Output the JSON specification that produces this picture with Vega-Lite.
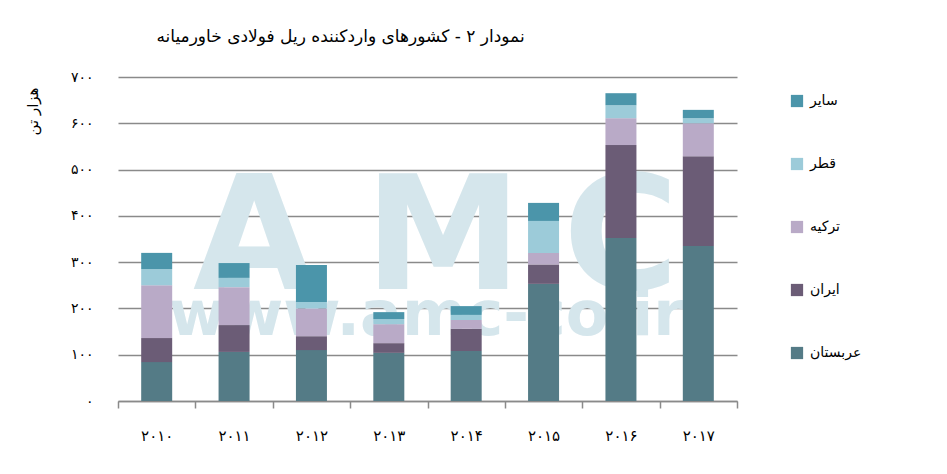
{
  "$schema": "https://vega.github.io/schema/vega-lite/v6.json",
  "autosize": {"type": "none"},
  "width": 619,
  "height": 324,
  "padding": {"left": 118, "top": 77, "right": 210, "bottom": 73},
  "background": "#ffffff",
  "title": {
    "text": "نمودار ۲ - کشورهای واردکننده ریل فولادی خاورمیانه",
    "fontSize": 17,
    "fontWeight": "normal",
    "font": "DejaVu Sans",
    "color": "#000000",
    "dx": -87,
    "offset": 24
  },
  "data": {
    "values": [
      {"year": "۲۰۱۰", "country": "عربستان", "value": 84},
      {"year": "۲۰۱۰", "country": "ایران", "value": 52},
      {"year": "۲۰۱۰", "country": "ترکیه", "value": 114},
      {"year": "۲۰۱۰", "country": "قطر", "value": 35},
      {"year": "۲۰۱۰", "country": "سایر", "value": 35},
      {"year": "۲۰۱۱", "country": "عربستان", "value": 106},
      {"year": "۲۰۱۱", "country": "ایران", "value": 58},
      {"year": "۲۰۱۱", "country": "ترکیه", "value": 82},
      {"year": "۲۰۱۱", "country": "قطر", "value": 20},
      {"year": "۲۰۱۱", "country": "سایر", "value": 32},
      {"year": "۲۰۱۲", "country": "عربستان", "value": 110},
      {"year": "۲۰۱۲", "country": "ایران", "value": 30},
      {"year": "۲۰۱۲", "country": "ترکیه", "value": 60},
      {"year": "۲۰۱۲", "country": "قطر", "value": 14},
      {"year": "۲۰۱۲", "country": "سایر", "value": 80},
      {"year": "۲۰۱۳", "country": "عربستان", "value": 104},
      {"year": "۲۰۱۳", "country": "ایران", "value": 21},
      {"year": "۲۰۱۳", "country": "ترکیه", "value": 41},
      {"year": "۲۰۱۳", "country": "قطر", "value": 11},
      {"year": "۲۰۱۳", "country": "سایر", "value": 15},
      {"year": "۲۰۱۴", "country": "عربستان", "value": 108},
      {"year": "۲۰۱۴", "country": "ایران", "value": 48},
      {"year": "۲۰۱۴", "country": "ترکیه", "value": 19},
      {"year": "۲۰۱۴", "country": "قطر", "value": 11},
      {"year": "۲۰۱۴", "country": "سایر", "value": 19},
      {"year": "۲۰۱۵", "country": "عربستان", "value": 253},
      {"year": "۲۰۱۵", "country": "ایران", "value": 42},
      {"year": "۲۰۱۵", "country": "ترکیه", "value": 25},
      {"year": "۲۰۱۵", "country": "قطر", "value": 69},
      {"year": "۲۰۱۵", "country": "سایر", "value": 39},
      {"year": "۲۰۱۶", "country": "عربستان", "value": 352},
      {"year": "۲۰۱۶", "country": "ایران", "value": 201},
      {"year": "۲۰۱۶", "country": "ترکیه", "value": 58},
      {"year": "۲۰۱۶", "country": "قطر", "value": 28},
      {"year": "۲۰۱۶", "country": "سایر", "value": 26},
      {"year": "۲۰۱۷", "country": "عربستان", "value": 335},
      {"year": "۲۰۱۷", "country": "ایران", "value": 194},
      {"year": "۲۰۱۷", "country": "ترکیه", "value": 71},
      {"year": "۲۰۱۷", "country": "قطر", "value": 11},
      {"year": "۲۰۱۷", "country": "سایر", "value": 18}
    ]
  },
  "encoding": {
    "x": {
      "field": "year",
      "type": "ordinal",
      "sort": null,
      "scale": {
        "domain": ["۲۰۱۰", "۲۰۱۱", "۲۰۱۲", "۲۰۱۳", "۲۰۱۴", "۲۰۱۵", "۲۰۱۶", "۲۰۱۷"],
        "paddingInner": 0,
        "paddingOuter": 0
      },
      "axis": {
        "title": null,
        "labelAngle": 0,
        "labelFont": "DejaVu Sans",
        "labelFontSize": 15,
        "labelColor": "#000000",
        "labelPadding": 20,
        "tickBand": "extent",
        "tickSize": 7,
        "tickColor": "#8a8a8a",
        "tickWidth": 1.5,
        "domainColor": "#8a8a8a",
        "domainWidth": 1.5,
        "grid": false
      }
    }
  },
  "layer": [
    {
      "data": {"values": [{}]},
      "mark": {"type": "text", "text": "A", "font": "DejaVu Sans", "fontWeight": "bold", "fontSize": 158, "color": "#d5e6ec", "align": "center", "baseline": "alphabetic", "dx": 20},
      "encoding": {
        "x": {"datum": "۲۰۱۱"},
        "y": {"datum": 242, "type": "quantitative"}
      }
    },
    {
      "data": {"values": [{}]},
      "mark": {"type": "text", "text": "M", "font": "DejaVu Sans", "fontWeight": "bold", "fontSize": 158, "color": "#d5e6ec", "align": "center", "baseline": "alphabetic", "dx": -23},
      "encoding": {
        "x": {"datum": "۲۰۱۴"},
        "y": {"datum": 242, "type": "quantitative"}
      }
    },
    {
      "data": {"values": [{}]},
      "mark": {"type": "text", "text": "C", "font": "DejaVu Sans", "fontWeight": "bold", "fontSize": 158, "color": "#d5e6ec", "align": "center", "baseline": "alphabetic"},
      "encoding": {
        "x": {"datum": "۲۰۱۶"},
        "y": {"datum": 242, "type": "quantitative"}
      }
    },
    {
      "data": {"values": [{}]},
      "mark": {"type": "text", "text": "www.amc-co.ir", "font": "DejaVu Sans", "fontWeight": "bold", "fontSize": 62, "color": "#d5e6ec", "align": "center", "baseline": "alphabetic", "dx": -40},
      "encoding": {
        "x": {"datum": "۲۰۱۴"},
        "y": {"datum": 143, "type": "quantitative"}
      }
    },
    {
      "transform": [
        {"calculate": "indexof(['عربستان','ایران','ترکیه','قطر','سایر'], datum.country)", "as": "rank"}
      ],
      "mark": {"type": "bar", "size": 31},
      "encoding": {
        "y": {
          "field": "value",
          "type": "quantitative",
          "stack": "zero",
          "scale": {"domain": [0, 700], "nice": false},
          "axis": {
            "title": "هزار تن",
            "titleFont": "DejaVu Sans",
            "titleFontSize": 15,
            "titleFontWeight": "normal",
            "titleColor": "#000000",
            "titleAnchor": "end",
            "titleY": 10,
            "titlePadding": 30,
            "values": [0, 100, 200, 300, 400, 500, 600, 700],
            "labelExpr": "replace(replace(replace(replace(replace(replace(replace(replace(datum.label,regexp('0','g'),'۰'),regexp('1','g'),'۱'),regexp('2','g'),'۲'),regexp('3','g'),'۳'),regexp('4','g'),'۴'),regexp('5','g'),'۵'),regexp('6','g'),'۶'),regexp('7','g'),'۷')",
            "labelFont": "DejaVu Sans",
            "labelFontSize": 14,
            "labelColor": "#000000",
            "labelPadding": 25,
            "domain": false,
            "ticks": false,
            "grid": true,
            "gridColor": "#8a8a8a",
            "gridWidth": 1.5
          }
        },
        "color": {
          "field": "country",
          "type": "nominal",
          "scale": {
            "domain": ["سایر", "قطر", "ترکیه", "ایران", "عربستان"],
            "range": ["#4b95aa", "#9ccbd9", "#b9aac7", "#6b5c76", "#547b86"]
          },
          "legend": {
            "title": null,
            "orient": "none",
            "legendX": 672,
            "legendY": 17,
            "symbolType": "square",
            "symbolSize": 150,
            "symbolStrokeWidth": 0,
            "labelFont": "DejaVu Sans",
            "labelFontSize": 14,
            "labelColor": "#000000",
            "labelOffset": 6,
            "rowPadding": 49
          }
        },
        "order": {"field": "rank", "type": "quantitative", "sort": "ascending"}
      }
    }
  ],
  "config": {
    "view": {"stroke": null}
  }
}
